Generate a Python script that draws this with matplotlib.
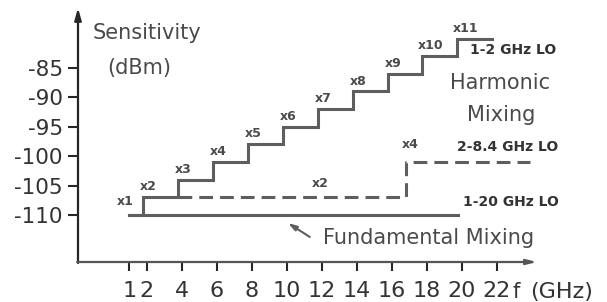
import numpy as np
import matplotlib.pyplot as plt

# harmonic mixing staircase (1-2 GHz LO)
harm_f = [1, 1.8, 3.8, 5.8, 7.8, 9.8, 11.8, 13.8, 15.8, 17.7, 19.7, 21.7]
harm_db = [-110, -107, -104, -101, -98, -95, -92, -89, -86, -83, -80, -80]
harm_labels = ['x1', 'x2', 'x3', 'x4', 'x5', 'x6', 'x7', 'x8', 'x9', 'x10', 'x11']

# 2-8.4 GHz LO (dashed)
lo84_f = [3.8, 16.8, 16.8, 23.9]
lo84_db = [-107, -107, -101, -101]

# fundamental mixing, 1-20 GHz LO
fund_f = [1, 19.8]
fund_db = [-110, -110]

xticks = [1, 2, 4, 6, 8, 10, 12, 14, 16, 18, 20, 22]
yticks = [-85, -90, -95, -100, -105, -110]
ytick_labels = ['-85', '-90', '-95', '-100', '-105', '-110']

line_c = '#5e5e5e'
text_c = '#4a4a4a'
axis_c = '#262626'

fig = plt.figure(figsize=(6.07, 3.02), dpi=100)
ax = fig.add_axes([78/607, 40/302, 459/607, 254/302])
ax.set_xlim(-1.94, 24.3)
ax.set_ylim(-118, -74.8)
for s in ax.spines.values():
    s.set_visible(False)

# axes with arrows
ax.annotate('', xy=(0, 1), xytext=(0, -0.004), xycoords='axes fraction',
            arrowprops=dict(arrowstyle='-|>,head_length=0.7,head_width=0.2',
                            color=axis_c, lw=1.6, shrinkA=0, shrinkB=0))
ax.annotate('', xy=(1, 0), xytext=(-0.002, 0), xycoords='axes fraction',
            arrowprops=dict(arrowstyle='-|>,head_length=0.6,head_width=0.15',
                            color='#555555', lw=1.6, shrinkA=0, shrinkB=0))

ax.set_xticks(xticks)
ax.set_xticklabels([str(t) for t in xticks])
ax.set_yticks(yticks)
ax.set_yticklabels(ytick_labels)
ax.tick_params(axis='y', direction='out', length=7, width=1.5, pad=4,
               labelsize=15.5, colors=axis_c, labelcolor='#333333')
ax.tick_params(axis='x', direction='out', length=6.5, width=1.5, pad=7,
               labelsize=16, colors=axis_c, labelcolor='#333333')

# data lines
ax.plot(harm_f, harm_db, drawstyle='steps-post', color=line_c, lw=2.2,
        solid_joinstyle='miter', clip_on=False)
ax.plot(fund_f, fund_db, color=line_c, lw=2.2, clip_on=False)
ax.plot(lo84_f, lo84_db, color=line_c, lw=2.2, dashes=(4.5, 2.3),
        dash_capstyle='butt', clip_on=False)

# step labels
for i, lab in enumerate(harm_labels):
    if i == 0:
        ax.annotate(lab, (harm_f[0], harm_db[0]), xytext=(3, 10),
                    textcoords='offset points', ha='right', va='center',
                    fontsize=9, fontweight='bold', color=text_c)
    else:
        ax.annotate(lab, (harm_f[i], harm_db[i]), xytext=(-2.5, 7.5),
                    textcoords='offset points', ha='left', va='center',
                    fontsize=9, fontweight='bold', color=text_c)

ax.text(11.43, -104.6, 'x2', ha='left', va='center', fontsize=9,
        fontweight='bold', color=text_c)
ax.text(16.57, -98.1, 'x4', ha='left', va='center', fontsize=9,
        fontweight='bold', color=text_c)

# titles and annotations
ax.text(-1.09, -79.0, 'Sensitivity', ha='left', va='center', fontsize=15,
        color=text_c)
ax.text(-0.29, -85.0, '(dBm)', ha='left', va='center', fontsize=15,
        color=text_c)
ax.text(22.17, -87.55, 'Harmonic', ha='center', va='center', fontsize=15,
        color=text_c)
ax.text(22.23, -93.0, 'Mixing', ha='center', va='center', fontsize=15,
        color=text_c)
ax.text(12.06, -113.9, 'Fundamental Mixing', ha='left', va='center',
        fontsize=15, color=text_c)
ax.text(20.46, -81.9, '1-2 GHz LO', ha='left', va='center', fontsize=10,
        fontweight='bold', color='#333333')
ax.text(19.71, -98.4, '2-8.4 GHz LO', ha='left', va='center', fontsize=10,
        fontweight='bold', color='#333333')
ax.text(20.06, -107.8, '1-20 GHz LO', ha='left', va='center', fontsize=10,
        fontweight='bold', color='#333333')
ax.text(23.09, -123.1, 'f', ha='center', va='center', fontsize=15,
        color='#333333')
ax.text(23.89, -123.1, '(GHz)', ha='left', va='center', fontsize=16,
        color='#333333')

ax.annotate('', xy=(10.06, -111.36), xytext=(11.31, -113.74),
            arrowprops=dict(arrowstyle='-|>,head_length=0.5,head_width=0.15',
                            color=line_c, lw=1.5, shrinkA=0, shrinkB=0))

plt.savefig('out.png', dpi=100)
